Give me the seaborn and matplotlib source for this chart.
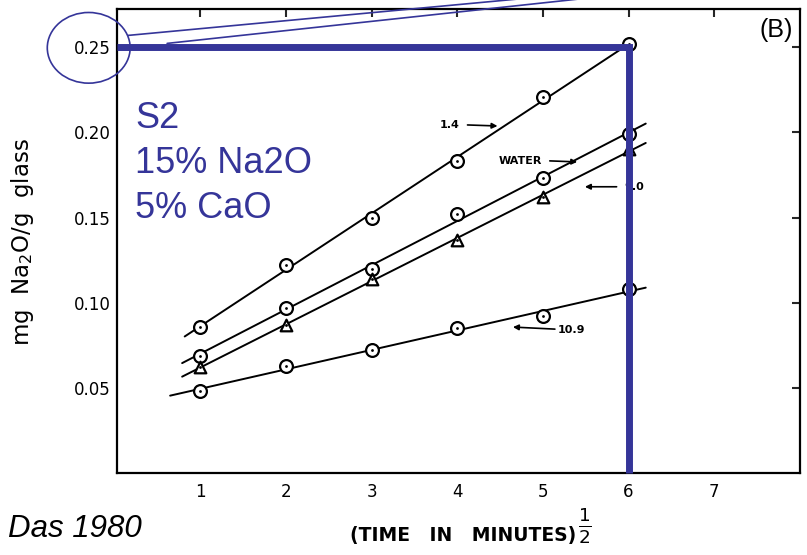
import numpy as np
import pandas as pd
import seaborn as sns
import matplotlib.pyplot as plt
from matplotlib.patches import Ellipse

sns.set_theme(style="white")
plt.rcParams['font.family'] = ['DejaVu Sans']

# sqrt(time / min) at which Na2O release was measured
time_sqrt = [1, 2, 3, 4, 5, 6]

# mg Na2O released per g glass, one list per leaching solution
na2o_ph_1_4 = [0.086, 0.122, 0.150, 0.183, 0.221, 0.252]
na2o_water = [0.069, 0.097, 0.120, 0.152, 0.173, 0.199]
na2o_ph_9_0 = [0.062, 0.087, 0.114, 0.137, 0.162, 0.190]
na2o_ph_10_9 = [0.048, 0.063, 0.072, 0.085, 0.092, 0.108]

series_labels = ["1.4", "WATER", "9.0", "10.9"]
series_values = [na2o_ph_1_4, na2o_water, na2o_ph_9_0, na2o_ph_10_9]
series_markers = ["o", "o", "^", "o"]
fit_from = [0.82, 0.79, 0.79, 0.65]
fit_to = [6.0, 6.2, 6.2, 6.2]

x_ticks = [1, 2, 3, 4, 5, 6, 7]
y_ticks = [0.05, 0.10, 0.15, 0.20, 0.25]
y_tick_labels = ["0.05", "0.10", "0.15", "0.20", "0.25"]

BLUE = "#353599"
W, H = 807, 555
fig = plt.figure(figsize=(W / 100, H / 100), dpi=100)
ax = fig.add_axes([117 / W, 1 - 473 / H, (800 - 117) / W, (473 - 9) / H])

# least-squares lines through each series, drawn under the markers
for vals, x0, x1 in zip(series_values, fit_from, fit_to):
    slope, icpt = np.polyfit(time_sqrt, vals, 1)
    xs = np.array([x0, x1])
    sns.lineplot(x=xs, y=slope * xs + icpt, color="black", lw=1.4,
                 ax=ax, zorder=2, legend=False)

for vals, mk in zip(series_values, series_markers):
    df = pd.DataFrame({"t": time_sqrt, "v": vals})
    sns.scatterplot(data=df, x="t", y="v", marker=mk, s=85 if mk == "o" else 70,
                    facecolor="white", edgecolor="black", linewidth=1.6,
                    ax=ax, zorder=3, legend=False)
    sns.scatterplot(data=df, x="t", y="v", marker="o", s=4, color="black",
                    linewidth=0, ax=ax, zorder=4, legend=False)

ax.set_xlim(0.03, 8.0)
ax.set_ylim(0.0, 0.2725)
ax.set_xticks(x_ticks)
ax.set_xticklabels([str(t) for t in x_ticks])
ax.set_yticks(y_ticks)
ax.set_yticklabels(y_tick_labels)
ax.set_xlabel("")
ax.set_ylabel("")
ax.tick_params(axis="both", direction="inout", length=8, width=1.5,
               labelsize=12, colors="black")
ax.tick_params(axis="y", pad=0.5)
ax.tick_params(axis="x", pad=3)
for s in ax.spines.values():
    s.set_visible(True)
    s.set_color("black")
    s.set_linewidth(1.6)

# inward ticks on the top and right frame
top = ax.secondary_xaxis("top")
top.set_xticks(x_ticks)
top.tick_params(direction="in", length=6, width=1.5, labeltop=False)
right = ax.secondary_yaxis("right")
right.set_yticks(y_ticks)
right.tick_params(direction="in", length=6, width=1.5, labelright=False)
for sec in (top, right):
    for s in sec.spines.values():
        s.set_visible(False)

# series names with pointer arrows
label_specs = [
    ("1.4", 3.91, 0.2044, (4.12, 0.2044), (4.47, 0.2038)),
    ("WATER", 4.74, 0.1833, (5.08, 0.1833), (5.40, 0.1827)),
    ("9.0", 6.07, 0.1681, (5.86, 0.1681), (5.49, 0.1681)),
    ("10.9", 5.33, 0.0839, (5.14, 0.0845), (4.65, 0.0857)),
]
for text, tx, ty, a0, a1 in label_specs:
    ax.text(tx, ty, text, fontsize=8, fontweight="bold", ha="center",
            va="center", color="black", zorder=5)
    ax.annotate("", xy=a1, xytext=a0,
                arrowprops=dict(arrowstyle="-|>", color="black", lw=1.2,
                                mutation_scale=8, shrinkA=0, shrinkB=0),
                zorder=5)

ax.text(0.965, 0.955, "(B)", transform=ax.transAxes, fontsize=18,
        family="Liberation Sans", ha="center", va="center", color="black")

# axis titles
fig.text(23 / W, 1 - 242 / H, "mg  Na$_2$O/g  glass", rotation=90,
         fontsize=16.5, ha="center", va="center", color="black")
fig.text(576 / W, 1 - 541 / H, "(TIME   IN   MINUTES)",
         fontsize=13.5, fontweight="bold", ha="right", va="baseline",
         color="black")
fig.text(585 / W, 1 - 526 / H, r"$\frac{1}{2}$", fontsize=19,
         ha="center", va="center", color="black")

# highlighted reading at t = 6 -> 0.25 mg/g
ax.plot([0.03, 6.0, 6.0], [0.25, 0.25, 0.0], color=BLUE, lw=5,
        solid_joinstyle="miter", solid_capstyle="butt", zorder=6,
        clip_on=False)
ax.add_patch(Ellipse((-0.30, 0.2497), 0.967, 0.0415, fill=False,
                     edgecolor=BLUE, lw=1.2, clip_on=False, zorder=6))
ax.plot([0.161, 10.0, 0.615], [0.257, 0.3032, 0.2523], color=BLUE, lw=1.2,
        clip_on=False, zorder=6)

# sample composition
for txt, base in zip(["S2", "15% Na2O", "5% CaO"], [128, 173, 218]):
    fig.text(135 / W, 1 - base / H, txt, fontsize=26, family="Liberation Sans",
             color=BLUE, ha="left", va="baseline")

fig.text(8 / W, 1 - 537 / H, "Das 1980", fontsize=22.5,
         family="Liberation Sans", style="italic", color="black",
         ha="left", va="baseline")

fig.savefig("out.png", dpi=100)
